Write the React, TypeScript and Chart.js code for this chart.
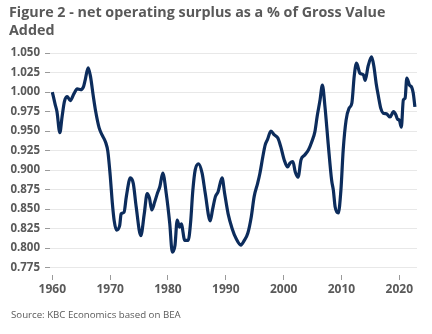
import React, { useEffect, useRef } from "react";
import { Chart, registerables } from "chart.js";

Chart.register(...registerables);

const years: number[] = [
  1960.0, 1960.5, 1960.8, 1961.3, 1961.7, 1962.1, 1962.6, 1963.1, 1963.75, 1964.3,
  1964.9, 1965.4, 1965.7, 1966.2, 1966.6, 1967.1, 1967.5, 1968.1, 1968.6, 1969.2,
  1969.6, 1970.0, 1970.4, 1970.7, 1971.1, 1971.65, 1971.9, 1972.4, 1972.8, 1973.5,
  1974.0, 1974.5, 1975.3, 1975.9, 1976.4, 1976.8, 1977.2, 1977.7, 1978.2, 1978.6,
  1979.1, 1979.7, 1980.3, 1980.75, 1981.2, 1981.6, 1982.0, 1982.3, 1982.9, 1983.5,
  1983.9, 1984.3, 1984.7, 1985.3, 1985.9, 1986.45, 1987.3, 1987.7, 1988.2, 1988.65,
  1989.35, 1989.8, 1990.4, 1991.1, 1991.8, 1992.6, 1993.2, 1993.8, 1994.4, 1994.9,
  1995.5, 1995.9, 1996.4, 1996.8, 1997.2, 1997.8, 1998.4, 1999.0, 1999.5, 2000.1,
  2000.7, 2001.1, 2001.6, 2002.0, 2002.5, 2003.0, 2003.6, 2004.3, 2004.85, 2005.4,
  2005.8, 2006.3, 2006.7, 2007.15, 2007.7, 2008.3, 2008.6, 2008.9, 2009.45, 2009.9,
  2010.3, 2010.8, 2011.3, 2011.8, 2012.2, 2012.6, 2013.2, 2013.8, 2014.1, 2014.6,
  2015.2, 2015.6, 2016.0, 2016.4, 2016.8, 2017.2, 2017.8, 2018.4, 2019.0, 2019.4,
  2019.7, 2020.0, 2020.35, 2020.7, 2021.0, 2021.3, 2021.75, 2022.15, 2022.4, 2022.7,
];

const surplusRatio: number[] = [
  1.0, 0.984, 0.975, 0.948, 0.969, 0.988, 0.994, 0.989, 0.998, 1.004,
  1.003, 1.007, 1.016, 1.031, 1.02, 0.994, 0.975, 0.954, 0.945, 0.936,
  0.924, 0.894, 0.856, 0.835, 0.823, 0.829, 0.844, 0.846, 0.866, 0.89,
  0.883, 0.853, 0.816, 0.844, 0.87, 0.864, 0.849, 0.859, 0.871, 0.879,
  0.896, 0.87, 0.832, 0.795, 0.803, 0.836, 0.827, 0.831, 0.81, 0.81,
  0.832, 0.874, 0.9, 0.908, 0.896, 0.87, 0.835, 0.849, 0.866, 0.872,
  0.89, 0.87, 0.844, 0.825, 0.812, 0.804, 0.81, 0.819, 0.84, 0.866,
  0.883, 0.896, 0.917, 0.932, 0.939, 0.95, 0.945, 0.941, 0.93, 0.913,
  0.904, 0.909, 0.911, 0.898, 0.891, 0.913, 0.919, 0.926, 0.936, 0.949,
  0.969, 0.99, 1.009, 0.981, 0.934, 0.887, 0.874, 0.853, 0.845, 0.874,
  0.926, 0.964, 0.979, 0.986, 1.02, 1.037, 1.024, 1.022, 1.015, 1.033,
  1.045, 1.033, 1.011, 0.994, 0.979, 0.973, 0.972, 0.968, 0.975, 0.971,
  0.965, 0.964, 0.955, 0.99, 0.992, 1.018, 1.009, 1.006, 0.999, 0.981,
];

const xTickYears: number[] = [1960, 1970, 1980, 1990, 2000, 2010, 2020];
const yTickValues: number[] = [
  0.775, 0.8, 0.825, 0.85, 0.875, 0.9, 0.925, 0.95, 0.975, 1.0, 1.025, 1.05,
];

const titleLines: string[] = [
  "Figure 2 - net operating surplus as a % of Gross Value",
  "Added",
];
const sourceText = "Source: KBC Economics based on BEA";

const GRAY = "#595959";
const FONT = "'Open Sans', 'Noto Sans', sans-serif";

export default function App() {
  const canvasRef = useRef<HTMLCanvasElement | null>(null);

  useEffect(() => {
    if (!canvasRef.current) return;
    const points = years.map((y, i) => ({ x: y, y: surplusRatio[i] }));
    const chart = new Chart(canvasRef.current, {
      type: "line",
      data: {
        datasets: [
          {
            data: points,
            borderColor: "#0c2c5c",
            borderWidth: 3.2,
            pointRadius: 0,
            tension: 0.4,
            cubicInterpolationMode: "monotone",
            fill: false,
          },
        ],
      },
      options: {
        responsive: false,
        animation: false,
        layout: { padding: { left: 0, right: 15, top: 53, bottom: 29 } },
        plugins: {
          legend: { display: false },
          tooltip: { enabled: false },
          title: { display: false },
        },
        scales: {
          x: {
            type: "linear",
            min: 1959.6,
            max: 2023.06,
            afterBuildTicks: (scale: any) => {
              scale.ticks = xTickYears.map((v) => ({ value: v }));
            },
            afterFit: (scale: any) => {
              scale.height = 30;
            },
            border: { display: false },
            grid: {
              drawOnChartArea: false,
              drawTicks: true,
              tickLength: 5,
              tickColor: "#9a9a9a",
            },
            ticks: {
              color: GRAY,
              font: { family: FONT, size: 12, weight: "bold" },
              padding: 2,
              maxRotation: 0,
              autoSkip: false,
              callback: (v: any) => String(v),
            },
          },
          y: {
            type: "linear",
            min: 0.7656,
            max: 1.05,
            afterBuildTicks: (scale: any) => {
              scale.ticks = yTickValues.map((v) => ({ value: v }));
            },
            afterFit: (scale: any) => {
              scale.width = 50;
            },
            border: { display: false },
            grid: {
              color: "#e8e8e8",
              lineWidth: 1,
              drawTicks: true,
              tickLength: 5,
              tickColor: "#9a9a9a",
            },
            ticks: {
              color: GRAY,
              font: { family: FONT, size: 11.5, weight: "bold" },
              padding: 5,
              autoSkip: false,
              callback: (v: any) => Number(v).toFixed(3),
            },
          },
        },
      },
    });
    return () => chart.destroy();
  }, []);

  return (
    <div
      style={{
        position: "absolute",
        left: 0,
        top: 0,
        width: 432,
        height: 334,
        background: "#ffffff",
        overflow: "hidden",
      }}
    >
      <canvas
        ref={canvasRef}
        width={432}
        height={334}
        style={{ position: "absolute", left: 0, top: 0, width: 432, height: 334 }}
      />
      <div
        style={{
          position: "absolute",
          left: 9,
          top: 3,
          fontFamily: FONT,
          fontWeight: 700,
          fontSize: 14.3,
          lineHeight: "17.5px",
          color: GRAY,
          whiteSpace: "nowrap",
        }}
      >
        {titleLines.map((t, i) => (
          <div key={i}>{t}</div>
        ))}
      </div>
      <div
        style={{
          position: "absolute",
          left: 11,
          top: 308,
          fontFamily: FONT,
          fontSize: 9.7,
          color: GRAY,
          whiteSpace: "nowrap",
        }}
      >
        {sourceText}
      </div>
    </div>
  );
}
